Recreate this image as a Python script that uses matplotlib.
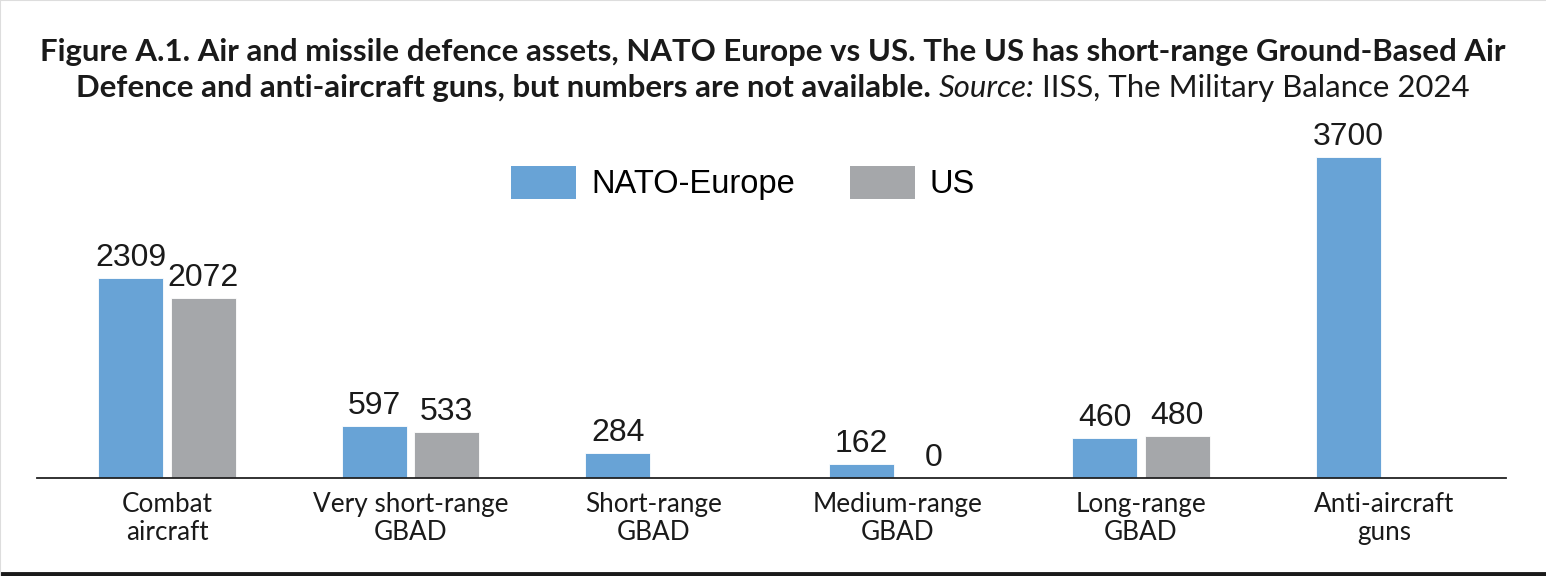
import numpy as np
import matplotlib
matplotlib.use("Agg")
import matplotlib.pyplot as plt
from matplotlib.patches import Patch
from matplotlib.lines import Line2D

categorias = ["Combat\naircraft", "Very short-range\nGBAD", "Short-range\nGBAD",
              "Medium-range\nGBAD", "Long-range\nGBAD", "Anti-aircraft\nguns"]
nato = [2309, 597, 284, 162, 460, 3700]
us = [2072, 533, None, 0, 480, None]

azul = "#68a3d6"
gris = "#a5a7aa"
fuenteTitulo = "Lato"
fuenteNum = "Liberation Sans"

fig = plt.figure(figsize=(15.46, 5.76), dpi=100)
ax = fig.add_axes([37/1546, 1-478/576, (1506-37)/1546, (478-100)/576])

x = np.arange(len(categorias))
w = 0.267
d = 0.149
ax.bar(x - d, nato, w, color=azul, edgecolor="white", linewidth=0.6)
xus = [xi + d for xi, v in zip(x, us) if v is not None]
vus = [v for v in us if v is not None]
ax.bar(xus, vus, w, color=gris, edgecolor="white", linewidth=0.6)

# etiquetas de valores
for xi, v in zip(x - d, nato):
    ax.annotate(str(v), (xi, v), xytext=(0, 8.6), textcoords="offset points",
                ha="center", va="baseline", fontsize=23, family=fuenteNum, color="#1a1a1a")
for xi, v in zip(xus, vus):
    ax.annotate(str(v), (xi, v), xytext=(0, 8.6), textcoords="offset points",
                ha="center", va="baseline", fontsize=23, family=fuenteNum, color="#1a1a1a")

ax.set_xlim(-0.534, 5.499)
ax.set_ylim(0, 3700*378/321)
ax.set_xticks(x)
ax.set_xticklabels(categorias, fontsize=18.8, family=fuenteTitulo, color="#1a1a1a", linespacing=1.15)
ax.tick_params(axis="x", length=0, pad=10)
ax.set_yticks([])
for s in ["top", "right", "left"]:
    ax.spines[s].set_visible(False)
ax.spines["bottom"].set_linewidth(1.3)
ax.spines["bottom"].set_color("#222222")

# leyenda
handles = [Patch(facecolor=azul, label="NATO-Europe"), Patch(facecolor=gris, label="US")]
fig.legend(handles=handles, loc="center", bbox_to_anchor=(743/1546, 1-183/576), ncol=2,
           frameon=False, prop={"family": fuenteNum, "size": 23.5},
           handlelength=2.0, handleheight=1.17, handletextpad=0.46, columnspacing=1.68)

# titulo
fig.text(0.5, 1-61/576, "Figure A.1. Air and missile defence assets, NATO Europe vs US. The US has short-range Ground-Based Air",
         ha="center", va="baseline", fontsize=22.4, fontweight="bold", family=fuenteTitulo, color="#1a1a1a")

partes = [("Defence and anti-aircraft guns, but numbers are not available. ", "bold", "normal"),
          ("Source:", "normal", "italic"),
          (" IISS, The Military Balance 2024", "normal", "normal")]
r = fig.canvas.get_renderer()
textos = []
for t, peso, estilo in partes:
    tx = fig.text(0, 1-97/576, t, ha="left", va="baseline", fontsize=22.4, fontweight=peso,
                  fontstyle=estilo, family=fuenteTitulo, color="#1a1a1a")
    textos.append(tx)
anchos = [tx.get_window_extent(r).width for tx in textos]
total = sum(anchos)
xpos = (1546 - total) / 2
for tx, a in zip(textos, anchos):
    tx.set_x(xpos / 1546)
    xpos += a

# bordes
fig.add_artist(Line2D([0, 1], [2/576, 2/576], color="#1a1a1a", linewidth=3.5, transform=fig.transFigure))
fig.add_artist(Line2D([0, 1], [1, 1], color="#dddddd", linewidth=1.5, transform=fig.transFigure))
fig.add_artist(Line2D([0, 0], [0, 1], color="#dddddd", linewidth=1.5, transform=fig.transFigure))

plt.savefig("out.png", dpi=100)
plt.close()
